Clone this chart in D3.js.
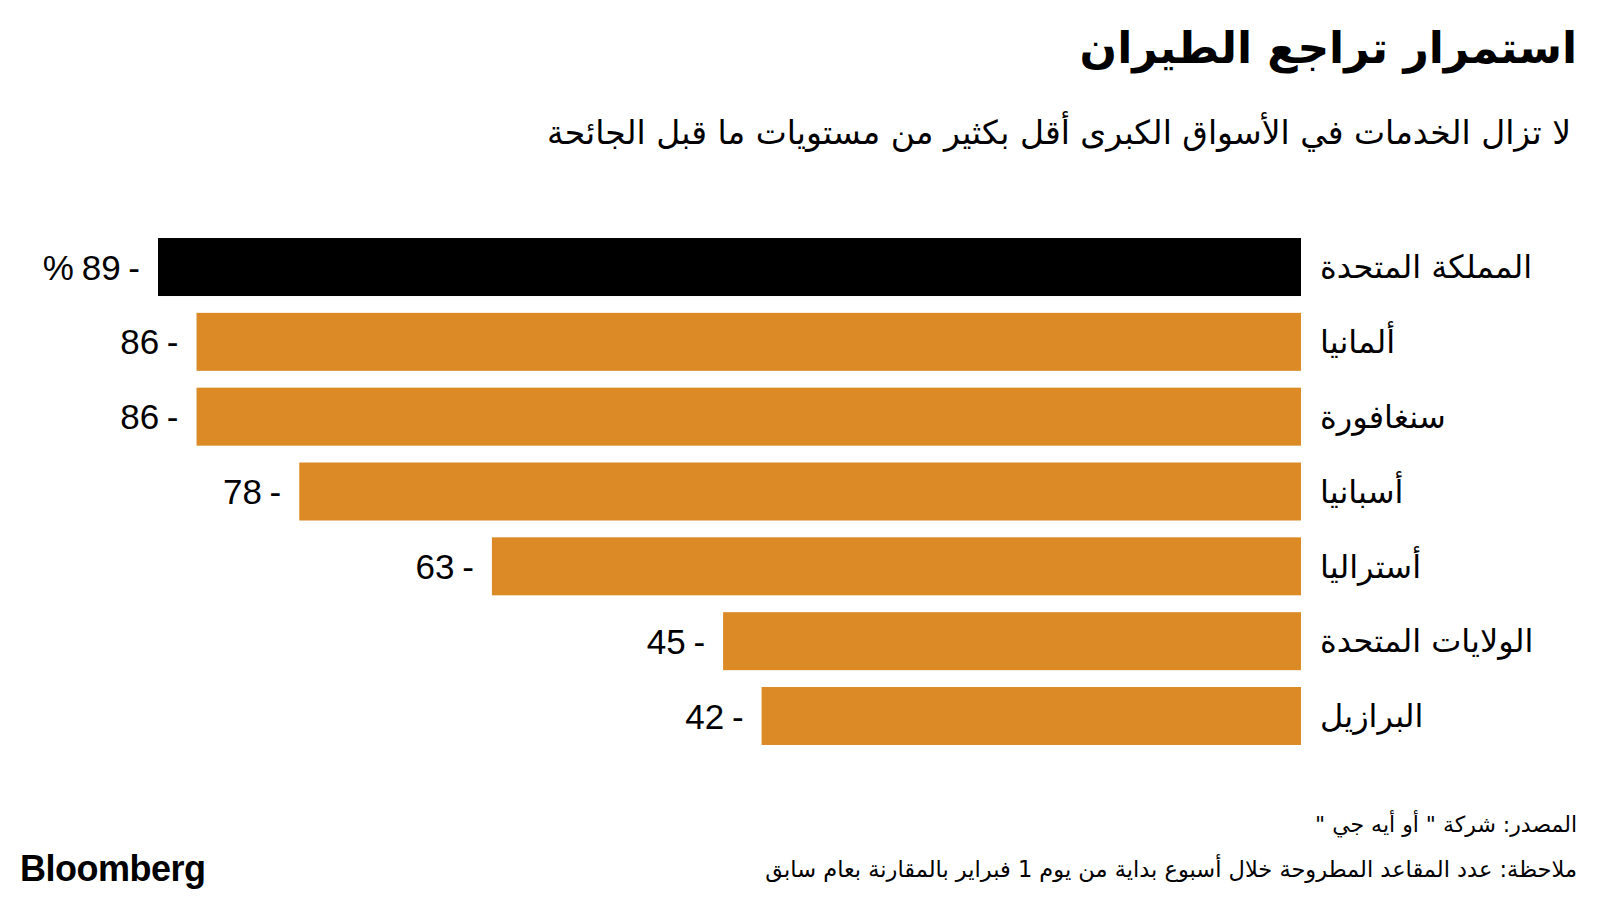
<!DOCTYPE html>
<html>
<head>
<meta charset="utf-8">
<script src="https://cdn.jsdelivr.net/npm/d3@7"></script>
<style>
  body { margin: 0; background: #fff; }
  text { font-family: "DejaVu Sans", sans-serif; }
</style>
</head>
<body>
<script>
// chart data
const countries = ["المملكة المتحدة", "ألمانيا", "سنغافورة", "أسبانيا", "أستراليا", "الولايات المتحدة", "البرازيل"];
const values = [89, 86, 86, 78, 63, 45, 42];
const barColors = ["#000000", "#db8a26", "#db8a26", "#db8a26", "#db8a26", "#db8a26", "#db8a26"];

const title = "استمرار تراجع الطيران";
const subtitle = "لا تزال الخدمات في الأسواق الكبرى أقل بكثير من مستويات ما قبل الجائحة";
const source = "المصدر: شركة \" أو أيه جي \"";
const note = "ملاحظة: عدد المقاعد المطروحة خلال أسبوع بداية من يوم 1 فبراير بالمقارنة بعام سابق";

const W = 1600, H = 900;

const svg = d3.select("body").append("svg")
    .attr("width", W)
    .attr("height", H);

// bars grow leftwards from a common right edge
const x = d3.scaleLinear()
    .domain([0, 89])
    .range([1301, 158]);

const y = d3.scaleBand()
    .domain(countries)
    .range([229.6, 753.4])
    .paddingInner(0.225)
    .paddingOuter(0.1125);

const data = countries.map((c, i) => ({ country: c, value: values[i], color: barColors[i] }));

svg.selectAll("rect.bar")
    .data(data)
    .enter().append("rect")
    .attr("class", "bar")
    .attr("x", d => x(d.value))
    .attr("y", d => y(d.country))
    .attr("width", d => x(0) - x(d.value))
    .attr("height", y.bandwidth())
    .attr("fill", d => d.color);

// country labels to the right of the bars
svg.selectAll("text.country")
    .data(data)
    .enter().append("text")
    .attr("class", "country")
    .attr("direction", "rtl")
    .attr("x", x(0) + 19)
    .attr("y", d => y(d.country) + y.bandwidth() / 2)
    .attr("dy", "0.35em")
    .attr("text-anchor", "end")
    .style("font-size", "32px")
    .attr("fill", "#000")
    .text(d => d.country);

// value labels at the bar tips
svg.selectAll("text.value")
    .data(data)
    .enter().append("text")
    .attr("class", "value")
    .attr("x", d => x(d.value) - 18)
    .attr("y", d => y(d.country) + y.bandwidth() / 2)
    .attr("dy", "0.36em")
    .attr("text-anchor", "end")
    .style("font-family", "'Liberation Sans', Arial, sans-serif")
    .style("font-size", "35px")
    .style("word-spacing", "-2px")
    .attr("fill", "#000")
    .text((d, i) => i === 0 ? `% ${d.value} -` : `${d.value} -`);

// titles
svg.append("text")
    .attr("direction", "rtl")
    .attr("x", 1577).attr("y", 63)
    .attr("text-anchor", "start")
    .style("font-size", "44px")
    .style("font-weight", "bold")
    .text(title);

svg.append("text")
    .attr("direction", "rtl")
    .attr("x", 1571).attr("y", 144)
    .attr("text-anchor", "start")
    .style("font-size", "33px")
    .text(subtitle);

// footer
svg.append("text")
    .attr("direction", "rtl")
    .attr("x", 1577).attr("y", 832)
    .attr("text-anchor", "start")
    .style("font-size", "22px")
    .text(source);

svg.append("text")
    .attr("direction", "rtl")
    .attr("x", 1577).attr("y", 877)
    .attr("text-anchor", "start")
    .style("font-size", "22.5px")
    .text(note);

svg.append("text")
    .attr("x", 20).attr("y", 881)
    .style("font-family", "'Liberation Sans', Arial, sans-serif")
    .style("font-size", "36px")
    .style("font-weight", "bold")
    .style("letter-spacing", "-0.5px")
    .text("Bloomberg");
</script>
</body>
</html>
